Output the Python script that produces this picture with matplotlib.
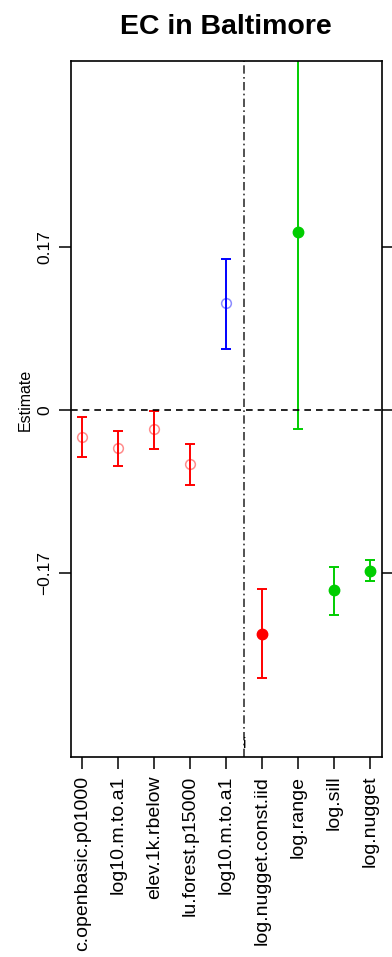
import matplotlib.pyplot as plt
import numpy as np

plt.rcParams['font.family'] = ['Liberation Sans', 'DejaVu Sans']

# Coefficient estimates with interval bounds
labels = ['c.openbasic.p01000', 'log10.m.to.a1', 'elev.1k.rbelow',
          'lu.forest.p15000', 'log10.m.to.a1', 'log.nugget.const.iid',
          'log.range', 'log.sill', 'log.nugget']
estimate = [-0.0279, -0.0394, -0.0195, -0.0561, 0.1121, -0.2337, 0.1857, -0.1881, -0.1682]
lower = [-0.0488, -0.0589, -0.0404, -0.0787, 0.0634, -0.2804, -0.0202, -0.2139, -0.1787]
upper = [-0.0070, -0.0219, -0.0007, -0.0352, 0.1581, -0.1870, 0.3916, -0.1637, -0.1571]
colors = ['#FF0000'] * 4 + ['#0000FF'] + ['#FF0000'] + ['#00CD00'] * 3
filled = [False] * 5 + [True] * 4
yticks = [-0.17, 0, 0.17]
ytick_labels = ['\u22120.17', '0', '0.17']

fig = plt.figure(figsize=(3.92, 9.57), dpi=100)
ax = fig.add_axes([0.1811, 0.209, 0.7926, 0.7276])

x = np.arange(1, len(labels) + 1)
for xi, est, lo, hi, c, f in zip(x, estimate, lower, upper, colors, filled):
    ax.errorbar(xi, est, yerr=[[est - lo], [hi - est]], fmt='none',
                ecolor=c, elinewidth=1.4, capsize=3.8, capthick=1.4)
    if f:
        ax.plot(xi, est, 'o', color=c, ms=7.5, mec=c)
    else:
        ax.plot(xi, est, 'o', mfc='none', mec=c, ms=7, mew=1.1, alpha=0.45)

ax.axhline(0, color='black', ls=(0, (4, 3)), lw=1.2)
ax.axvline(5.5, color='#333333', ls=(0, (5, 2, 1, 2)), lw=1.2)

ax.set_xlim(0.68, 9.32)
ax.set_ylim(-0.3626, 0.365)
ax.set_xticks(x)
ax.set_xticklabels(labels, rotation=90, va='top', ha='center', fontsize=14)
ax.set_yticks(yticks)
ax.set_yticklabels(ytick_labels, rotation=90, va='center', fontsize=12.5)
ax.tick_params(axis='both', direction='out', length=8.5, width=1.1, pad=5)
ax.tick_params(axis='y', right=True, labelright=False)
for s in ax.spines.values():
    s.set_linewidth(1.2)

ax.set_ylabel('Estimate', fontsize=11.5)
ax.yaxis.set_label_coords(-0.122, 0.513)
ax.text(5.5, 0.008, 'i', transform=ax.get_xaxis_transform(),
        ha='center', va='bottom', fontsize=11)
ax.set_title('EC in Baltimore', fontsize=20.5, fontweight='bold', pad=19)

fig.savefig('out.png', dpi=100)
